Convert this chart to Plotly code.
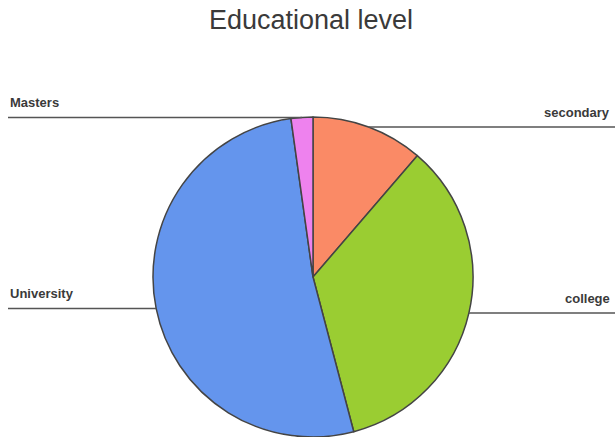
import math
import plotly.graph_objects as go

# Data
categories = ["secondary", "college", "University", "Masters"]
values = [11.3, 34.6, 51.9, 2.2]
colors = ["#FA8A66", "#9ACD32", "#6495ED", "#EE82EE"]
title_text = "Educational level"

W, H = 615, 437
cx, cy, r = 313, 277, 160  # pixel geometry of pie

fig = go.Figure(go.Pie(
    labels=categories, values=values, sort=False, direction="clockwise",
    rotation=0, textinfo="none", hoverinfo="label+percent",
    marker=dict(colors=colors, line=dict(color="#444444", width=1.5)),
    domain=dict(x=[(cx - r) / W, (cx + r) / W], y=[(H - cy - r) / H, (H - cy + r) / H]),
    showlegend=False,
))

shapes, annotations = [], []
total = sum(values)
cum = 0.0
for cat, v in zip(categories, values):
    mid = (cum + v / 2) / total * 2 * math.pi
    cum += v
    px = cx + r * math.sin(mid)
    py = cy - r * math.cos(mid)
    right = math.sin(mid) >= 0
    x0 = px
    x1 = W if right else 8
    shapes.append(dict(type="line", xref="paper", yref="paper",
                       x0=x0 / W, x1=x1 / W, y0=1 - py / H, y1=1 - py / H,
                       line=dict(color="#555555", width=1.5)))
    annotations.append(dict(text="<b>" + cat + "</b>", xref="paper", yref="paper", showarrow=False,
                            x=(612 if right else 8) / W, y=1 - py / H,
                            xanchor="right" if right else "left", yanchor="bottom",
                            yshift=5,
                            font=dict(family="Arial", size=13, color="#3a3a3a")))

fig.update_layout(
    width=W, height=H, margin=dict(l=0, r=0, t=0, b=0),
    paper_bgcolor="white", plot_bgcolor="white",
    title=dict(text=title_text, x=311 / W, xanchor="center", y=1 - 20 / H, yanchor="middle",
               font=dict(family="Arial", size=27, color="#3a3a3a")),
    shapes=shapes, annotations=annotations,
)
fig.write_html("out.html")
